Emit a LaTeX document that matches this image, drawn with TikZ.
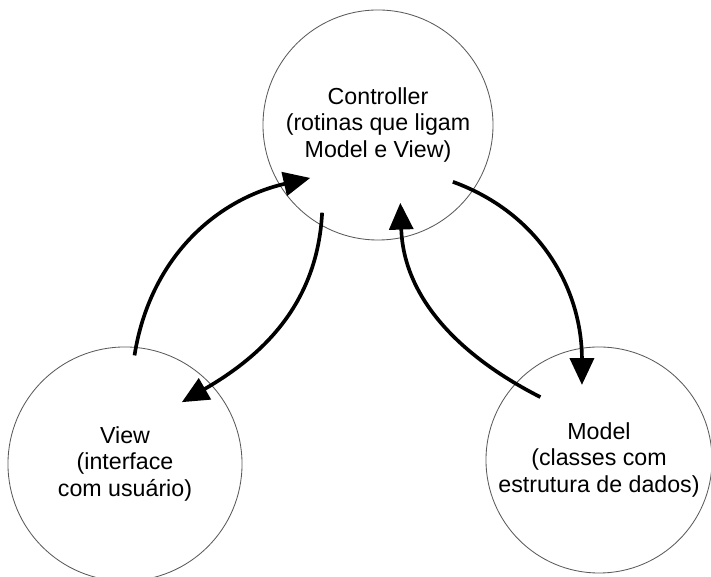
\documentclass[tikz,border=0pt]{standalone}
\usepackage{fontspec}
\setmainfont{Liberation Sans}
\usepackage{tikz}
\usetikzlibrary{arrows.meta, positioning, calc}
\usepackage{xcolor}
\definecolor{borda}{RGB}{90,90,90}

\tikzset{
  modulo/.style={circle, draw=borda, line width=0.6pt, minimum size=5.75cm,
    inner sep=0pt, align=center, font=\fontsize{16.5}{19}\selectfont},
  seta/.style={line width=2.6pt, -{Triangle[length=19pt, width=17pt]}}
}

\begin{document}
\begin{tikzpicture}[x=0.025cm, y=0.025cm]
  \useasboundingbox (0,0) rectangle (711,577);
  \node[modulo] (ctrl) at (378,452) {Controller\\(rotinas que ligam\\Model e View)};
  \node[modulo, minimum size=5.85cm] (view) at (125,113) {View\\(interface\\com usuário)};
  \node[modulo, minimum size=5.65cm] (model) at (599,117) {Model\\(classes com\\estrutura de dados)};

  \draw[seta] ($(view.center)+(85:109)$) to[out=81, in=193] ($(ctrl.center)+(218:86)$);
  \draw[seta] ($(ctrl.center)+(237.5:104)$) to[out=267, in=30] ($(view.center)+(47.4:84)$);
  \draw[seta] ($(ctrl.center)+(-37.2:94)$) to[out=-20, in=90] ($(model.center)+(102.8:77)$);
  \draw[seta] ($(model.center)+(133:86)$) to[out=153, in=-88] ($(ctrl.center)+(-74:81)$);
\end{tikzpicture}
\end{document}
